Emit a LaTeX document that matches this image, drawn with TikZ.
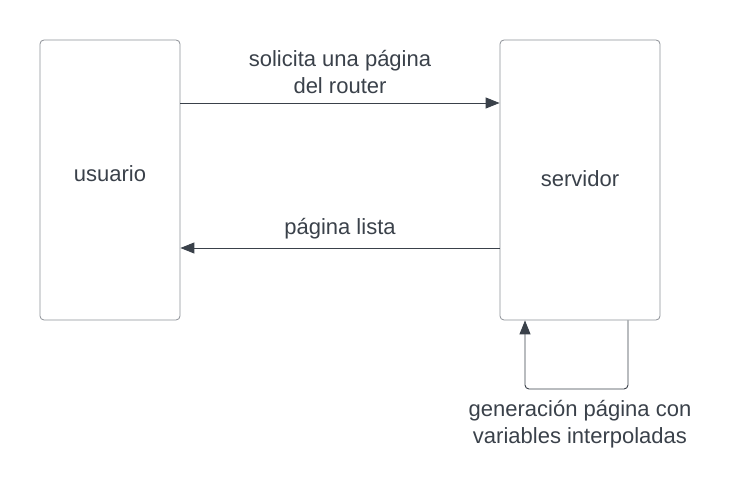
\documentclass[tikz,border=0pt]{standalone}
\usepackage{fontspec}
\setmainfont{Liberation Sans}
\usetikzlibrary{positioning, arrows.meta, calc}
\definecolor{boxgray}{HTML}{8C9096}
\definecolor{inkgray}{HTML}{3A414A}

\begin{document}
\begin{tikzpicture}
[x=1pt, y=-1pt,
 actor/.style={rectangle, draw=boxgray, thick, rounded corners=4pt, inner sep=0pt},
 ->/.style={draw=inkgray, line width=0.9pt, arrows={-Triangle[length=14pt, width=11pt]}},
 lbl/.style={text=inkgray, font=\fontsize{22}{27}\selectfont, align=center}]

\useasboundingbox (0,0) rectangle (740,494);

% the two boxes
\node[actor, minimum width=140pt, minimum height=280pt] (usuario) at (110,180) {};
\node[actor, minimum width=160pt, minimum height=280pt] (servidor) at (580,180) {};
\node[lbl, anchor=base] (tu) at (110,182) {usuario};
\node[lbl, anchor=base] (ts) at (580,187) {servidor};

% labels on the connectors
\node[lbl] (pide) at (340,72) {solicita una página\\del router};
\node[lbl, anchor=base] (lista) at (340,235) {página lista};
\node[lbl] (gen) at (580,424) {generación página con\\variables interpoladas};

% loop corners
\coordinate (c1) at (628,389);
\coordinate (c2) at (525,389);

  \draw [->] (usuario.east |- 0,103) -- (servidor.west |- 0,103);
  \draw [->] (servidor.west |- 0,248) -- (usuario.east |- 0,248);
  \draw [->, rounded corners=4pt] (servidor.south -| c1) -- (c1) -- (c2) -- (servidor.south -| c2);

\end{tikzpicture}
\end{document}
